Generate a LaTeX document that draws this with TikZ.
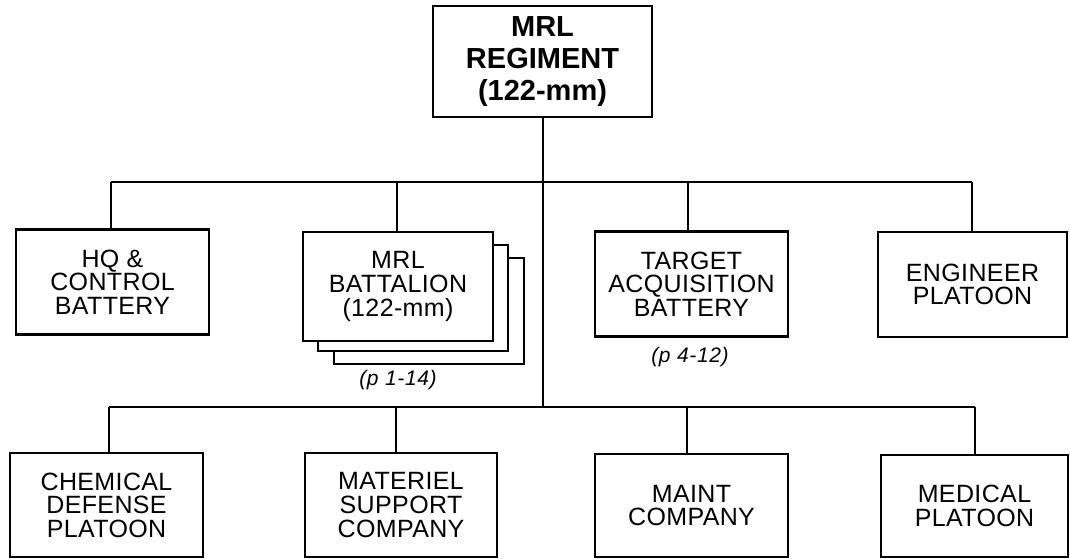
\documentclass[tikz,border=0pt]{standalone}
\usepackage{fontspec}
\setmainfont{Liberation Sans}
\newfontfamily\unitfamily[LetterSpace=1.5]{Liberation Sans}
\begin{document}
\begin{tikzpicture}[x=1pt,y=1pt,
  unitbox/.style={draw, line width=2.6pt, fill=white, inner sep=0pt, align=center,
    font=\unitfamily\fontsize{25}{23.6}\selectfont, minimum width=193pt, minimum height=105pt},
  topbox/.style={unitbox, font=\bfseries\fontsize{29}{32}\selectfont, minimum width=219pt, minimum height=111pt},
  link/.style={line width=2pt},
  pageref/.style={font=\itshape\fontsize{21}{23}\selectfont\addfontfeatures{LetterSpace=3}, inner sep=0pt}]
\useasboundingbox (0,0) rectangle (1070,-559);
% top
\node[topbox] (top) at (542.5,-61.5) {MRL\\REGIMENT\\(122-mm)};
% row 1
\node[unitbox] (hq) at (112.5,-282) {HQ \&\\CONTROL\\BATTERY};
\node[unitbox, minimum width=190pt, minimum height=106pt] (bn3) at (429,-311) {};
\node[unitbox, minimum width=190pt, minimum height=106pt] (bn2) at (413,-298) {};
\node[unitbox, minimum width=190pt, minimum height=109pt] (bn) at (398,-286.5) {MRL\\BATTALION\\(122-mm)};
\node[pageref] (bnref) at (398,-380) {(p 1-14)};
\node[unitbox] (ta) at (691.5,-284) {TARGET\\ACQUISITION\\BATTERY};
\node[pageref] (taref) at (690,-357) {(p 4-12)};
\node[unitbox, minimum width=189pt] (eng) at (972.5,-284.5) {ENGINEER\\PLATOON};
% row 2
\node[unitbox, minimum height=104pt] (chem) at (106.5,-505) {CHEMICAL\\DEFENSE\\PLATOON};
\node[unitbox, minimum width=192pt, minimum height=104pt] (mat) at (401,-505) {MATERIEL\\SUPPORT\\COMPANY};
\node[unitbox, minimum height=103pt] (maint) at (691.5,-505.5) {MAINT\\COMPANY};
\node[unitbox, minimum width=187pt, minimum height=102pt] (med) at (974.5,-506) {MEDICAL\\PLATOON};
% bus coordinates
\coordinate (b1L) at (111,-182);
\coordinate (b1bn) at (397,-182);
\coordinate (b1ta) at (688,-182);
\coordinate (b1R) at (972,-182);
\coordinate (b2L) at (109,-407);
\coordinate (b2mat) at (396,-407);
\coordinate (b2mid) at (543,-407);
\coordinate (b2maint) at (687,-407);
\coordinate (b2R) at (975,-407);
% connectors
\draw[link] (top.south -| b2mid) -- (b2mid);
\draw[link] (b1L) -- (b1R);
\draw[link] (b1L) -- (b1L |- hq.north);
\draw[link] (b1bn) -- (b1bn |- bn.north);
\draw[link] (b1ta) -- (b1ta |- ta.north);
\draw[link] (b1R) -- (b1R |- eng.north);
\draw[link] (b2L) -- (b2R);
\draw[link] (b2L) -- (b2L |- chem.north);
\draw[link] (b2mat) -- (b2mat |- mat.north);
\draw[link] (b2maint) -- (b2maint |- maint.north);
\draw[link] (b2R) -- (b2R |- med.north);
\end{tikzpicture}
\end{document}
